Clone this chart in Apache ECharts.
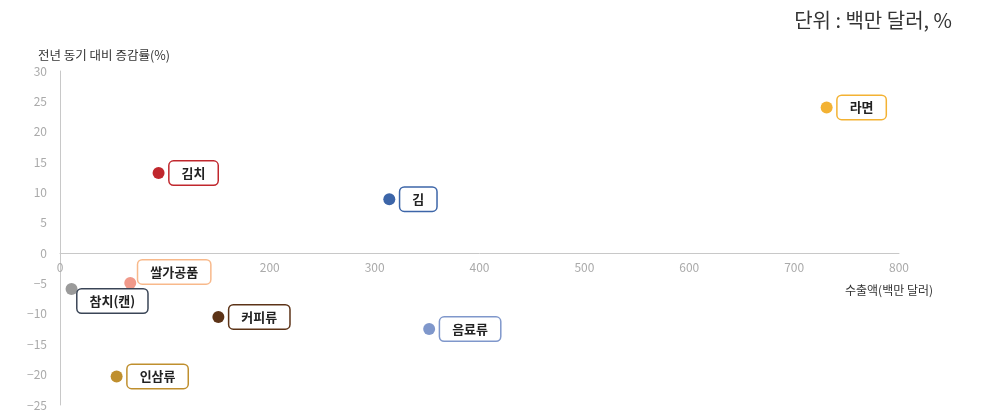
<!DOCTYPE html>
<html><head><meta charset="utf-8">
<script src="https://cdn.jsdelivr.net/npm/echarts@6/dist/echarts.min.js"></script>
<style>html,body{margin:0;padding:0;background:#fff}#c{width:988px;height:416px}</style>
</head><body><div id="c"></div>
<script>
const names = ['라면', '김치', '김', '쌀가공품', '참치(캔)', '커피류', '음료류', '인삼류'];
const exportsVal = [731, 94, 314, 67, 11, 151, 352, 54];
const growth = [24.0, 13.2, 8.9, -4.9, -5.9, -10.5, -12.5, -20.3];
const xTicks = [0, 100, 200, 300, 400, 500, 600, 700, 800];
const yTicks = [-25, -20, -15, -10, -5, 0, 5, 10, 15, 20, 25, 30];

const dotColors = ['#F3B233', '#C0272D', '#3C65A8', '#F0998A', '#9A9A9A', '#5C3317', '#7F97CB', '#BF8F2E'];
const borderColors = ['#F3B233', '#C0272D', '#3C65A8', '#F8B98B', '#3A4556', '#5C3317', '#7F97CB', '#BF8F2E'];
const labelOffsets = [[0,0],[0,0],[0,0],[-3,-11],[-5,12],[0,0],[0,0],[0,0]];

const FONT = '"Noto Sans CJK KR", "Noto Sans", sans-serif';
const Y_MIN = -25, Y_MAX = 30, GRID_TOP = 71, GRID_BOTTOM = 11, H = 416;
const plotH = H - GRID_TOP - GRID_BOTTOM;
const zeroOffset = -plotH * (0 - Y_MIN) / (Y_MAX - Y_MIN);

const chart = echarts.init(document.getElementById('c'));
const data = names.map((n, i) => ({
  name: n,
  value: [exportsVal[i], growth[i]],
  itemStyle: { color: dotColors[i], opacity: 1 },
  label: {
    borderColor: borderColors[i],
    offset: labelOffsets[i]
  }
}));
chart.setOption({
  animation: false,
  textStyle: { fontFamily: FONT },
  title: {
    text: '단위 : 백만 달러, %',
    right: 31, top: 5,
    textStyle: { fontSize: 20, fontWeight: 'normal', color: '#333', fontFamily: FONT }
  },
  grid: { left: 60, right: 89, top: GRID_TOP, bottom: GRID_BOTTOM, containLabel: false, outerBoundsMode: 'none' },
  xAxis: {
    type: 'value', min: 0, max: 800, interval: 100,
    position: 'bottom', offset: zeroOffset,
    name: '수출액(백만 달러)', nameLocation: 'end', nameGap: -10,
    nameTextStyle: { align: 'center', verticalAlign: 'top', padding: [31, 0, 0, 0], fontSize: 12, color: '#333', fontFamily: FONT },
    axisLine: { onZero: false, lineStyle: { color: '#c8c8c8' } },
    axisTick: { show: false },
    splitLine: { show: false },
    axisLabel: { color: '#aaa', fontSize: 12, margin: 8, fontFamily: FONT,
      formatter: v => xTicks.includes(v) ? String(v) : '' }
  },
  yAxis: {
    type: 'value', min: Y_MIN, max: Y_MAX, interval: 5,
    name: '전년 동기 대비 증감률(%)', nameLocation: 'end', nameGap: 9,
    nameTextStyle: { align: 'left', padding: [0, 0, 0, -22], fontSize: 12.5, color: '#333', fontFamily: FONT },
    axisLine: { show: true, onZero: false, lineStyle: { color: '#c8c8c8' } },
    axisTick: { show: false },
    splitLine: { show: false },
    axisLabel: { color: '#aaa', fontSize: 12, margin: 13, fontFamily: FONT,
      formatter: v => yTicks.includes(v) ? String(v).replace('-', '−') : '' }
  },
  series: [{
    type: 'scatter',
    symbolSize: 12,
    data: data,
    itemStyle: { opacity: 1 },
    label: {
      show: true, position: 'right', distance: 5,
      formatter: p => p.name,
      color: '#222', fontSize: 13, fontWeight: 'bold', fontFamily: FONT,
      backgroundColor: '#fff', borderWidth: 1.5, borderRadius: 4,
      padding: [4, 12], lineHeight: 15
    }
  }]
});
</script></body></html>
